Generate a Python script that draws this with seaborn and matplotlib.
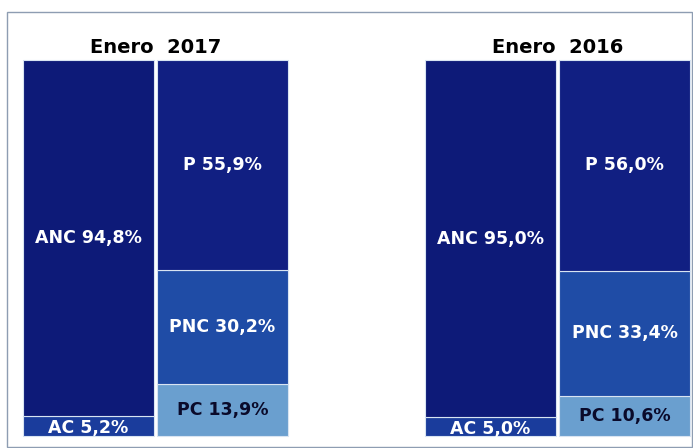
import matplotlib
matplotlib.use("Agg")
import matplotlib.pyplot as plt
from matplotlib.patches import Rectangle
import seaborn as sns
import pandas as pd

# ---- data ----
titles = ["Enero  2017", "Enero  2016"]
columns = ["Activo 2017", "Pasivo 2017", "", "Activo 2016", "Pasivo 2016"]
ac = [5.2, 5.0]
anc = [94.8, 95.0]
pc = [13.9, 10.6]
pnc = [30.2, 33.4]
p = [55.9, 56.0]

activo_cols = ["Activo 2017", "Activo 2016"]
pasivo_cols = ["Pasivo 2017", "Pasivo 2016"]

c_anc = "#0d1a78"
c_ac = "#1a3c9c"
c_p = "#111f82"
c_pnc = "#1f4ca6"
c_pc = "#6a9fcf"

sns.set_theme(style="white")
plt.rcParams["font.family"] = ["DejaVu Sans"]

fig = plt.figure(figsize=(6.93, 4.48), dpi=100)
ax = fig.add_axes([0, 0, 1, 1])
ax.set_facecolor("white")

W = 0.978


def layer(cols, vals, bottoms, color):
    df = pd.DataFrame({"col": cols, "val": vals})
    sns.barplot(data=df, x="col", y="val", order=columns, color=color,
                width=W, bottom=bottoms, edgecolor="#d8e4f2", linewidth=0.8,
                saturation=1, ax=ax, errorbar=None)


layer(activo_cols, ac, [0, 0], c_ac)
layer(activo_cols, anc, ac, c_anc)
layer(pasivo_cols, pc, [0, 0], c_pc)
pc_pnc = [a + b for a, b in zip(pc, pnc)]
layer(pasivo_cols, pnc, pc, c_pnc)
layer(pasivo_cols, p, pc_pnc, c_p)

ax.set_xlim(-0.6604, 4.511)
ax.set_ylim(-3.19, 115.96)
ax.axis("off")

lab_kw = dict(ha="center", va="center", fontsize=12.5, fontweight="bold")


def fmt(v):
    return f"{v:.1f}".replace(".", ",") + "%"


xa = [columns.index(c) for c in activo_cols]
xp = [columns.index(c) for c in pasivo_cols]
for i in range(2):
    ax.text(xa[i], ac[i] / 2 - 0.6, "AC " + fmt(ac[i]), color="white", **lab_kw)
    ax.text(xa[i], ac[i] + anc[i] / 2, "ANC " + fmt(anc[i]), color="white", **lab_kw)
    ax.text(xp[i], pc[i] / 2, "PC " + fmt(pc[i]), color="#0a0a2a", **lab_kw)
    ax.text(xp[i], pc[i] + pnc[i] / 2, "PNC " + fmt(pnc[i]), color="white", **lab_kw)
    ax.text(xp[i], pc_pnc[i] + p[i] / 2, "P " + fmt(p[i]), color="white", **lab_kw)
    ax.text((xa[i] + xp[i]) / 2, 103.3, titles[i], ha="center", va="center",
            fontsize=14, fontweight="bold", color="black")

fig.patches.append(Rectangle((7 / 693, 1 / 448), 685 / 693, 435 / 448,
                             transform=fig.transFigure, fill=False,
                             edgecolor="#8e9db2", linewidth=1.0))

fig.savefig("out.png", dpi=100, facecolor="white")
